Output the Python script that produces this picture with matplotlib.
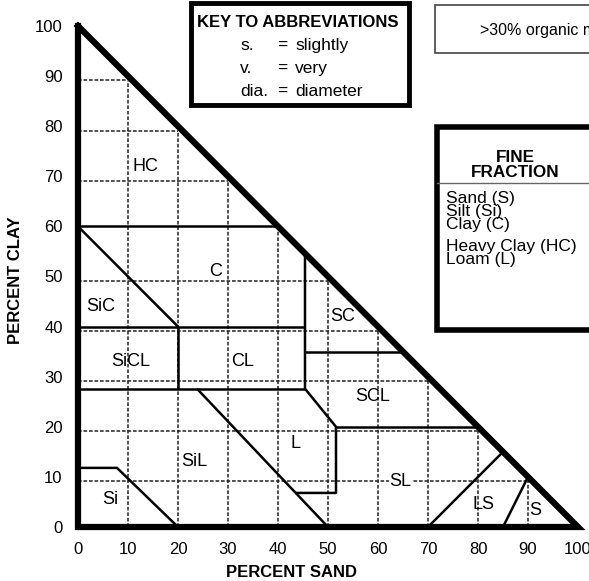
import matplotlib
matplotlib.use('Agg')
import matplotlib.pyplot as plt
from matplotlib.patches import Rectangle
from matplotlib.lines import Line2D

plt.rcParams['font.family'] = ['Liberation Sans', 'DejaVu Sans']

W, H = 589, 581

# texture triangle data (percent sand, percent clay)
ticks = [0, 10, 20, 30, 40, 50, 60, 70, 80, 90, 100]
grid_sand = [10, 20, 30, 40, 50, 60, 70, 80, 90]
grid_clay = [9.1, 19.1, 29.2, 39.1, 49.1, 69.0, 79.0, 89.2]

outline = [(0, 100), (0, 0), (100, 0), (0, 100)]

boundaries = [
    [(0, 60), (40, 60)],
    [(0, 60), (20, 40)],
    [(0, 40), (45.4, 40)],
    [(20, 40), (20, 27.6)],
    [(0, 27.6), (45.4, 27.6)],
    [(45.4, 54.6), (45.4, 27.6), (51.6, 20), (51.6, 6.8), (43.6, 6.8)],
    [(45.4, 35), (65, 35)],
    [(51.6, 20), (80, 20)],
    [(23.8, 27.6), (50, 0)],
    [(0, 11.8), (7.8, 11.8), (20, 0)],
    [(70, 0), (85, 15)],
    [(85, 0), (90, 10)],
]

classes = ['HC', 'C', 'SiC', 'SiCL', 'CL', 'SC', 'SCL', 'L', 'SiL', 'Si', 'SL', 'LS', 'S']
class_sand = [13.5, 27.5, 4.5, 10.5, 33, 53, 59, 43.5, 23.2, 6.5, 64.5, 81, 91.5]
class_clay = [72, 51, 44, 33, 33, 42, 26, 16.6, 13, 5.4, 9.1, 4.4, 3.2]

abbrevs = ['s.', 'v.', 'dia.']
meanings = ['slightly', 'very', 'diameter']
fine_main = ['Sand (S)', 'Silt (Si)', 'Clay (C)']
fine_extra = ['Heavy Clay (HC)', 'Loam (L)']


def fx(x):
    return x / W


def fy(y):
    return 1 - y / H


fig = plt.figure(figsize=(W / 100, H / 100), dpi=100)
ax = fig.add_axes([fx(78), fy(527), 500 / W, 501 / H])
ax.set_xlim(0, 100)
ax.set_ylim(0, 100)
for s in ax.spines.values():
    s.set_visible(False)

# dashed grid, stepped up to the diagonal
dash = (0, (2.4, 1.2))
for s in grid_sand:
    ax.plot([s, s], [0, 100 - s - 0.9], color='#222222', lw=1.1, ls=dash, zorder=1)
for c in grid_clay:
    ax.plot([0, 100 - round(c + 0.9)], [c, c], color='#222222', lw=1.1, ls=dash, zorder=1)

for b in boundaries:
    xs = [p[0] for p in b]
    ys = [p[1] for p in b]
    ax.plot(xs, ys, color='black', lw=1.8, zorder=2, solid_capstyle='butt')

ax.plot([p[0] for p in outline], [p[1] for p in outline], color='black', lw=4.5,
        zorder=3, clip_on=False, solid_joinstyle='miter')

for name, s, c in zip(classes, class_sand, class_clay):
    t = ax.text(s, c, name, fontsize=13, ha='center', va='center', zorder=4)
    if name == 'SL':
        t.set_bbox(dict(facecolor='white', edgecolor='none', pad=0.5))

ax.set_xticks(ticks)
ax.set_yticks(ticks)
ax.tick_params(length=0, labelsize=12)
ax.tick_params(axis='x', pad=11)
ax.tick_params(axis='y', pad=11)

ax.set_xlabel('PERCENT SAND', fontsize=12, fontweight='bold')
ax.set_ylabel('PERCENT CLAY', fontsize=12, fontweight='bold')
ax.xaxis.set_label_coords((292 - 78) / 500, (527 - 565) / 501)
ax.yaxis.set_label_coords((23 - 78) / 500, (527 - 280) / 501)

# key to abbreviations box
fig.add_artist(Rectangle((fx(191), fy(105)), 218 / W, 102 / H, transform=fig.transFigure,
                         facecolor='white', edgecolor='black', lw=3.5, zorder=5))
fig.text(fx(298), fy(27), 'KEY TO ABBREVIATIONS', fontsize=12, fontweight='bold',
         ha='center', va='baseline', zorder=6)
for i, (a, m) in enumerate(zip(abbrevs, meanings)):
    y = 50 + i * 23
    fig.text(fx(240), fy(y), a, fontsize=12.5, ha='left', va='baseline', zorder=6)
    fig.text(fx(277), fy(y), '=', fontsize=12.5, ha='left', va='baseline', zorder=6)
    fig.text(fx(295), fy(y), m, fontsize=12.5, ha='left', va='baseline', zorder=6)

# organic matter box (runs off the page)
fig.add_artist(Rectangle((fx(435), fy(53)), 200 / W, 48 / H, transform=fig.transFigure,
                         facecolor='white', edgecolor='#444444', lw=1.2, zorder=5))
fig.text(fx(480), fy(30), '>30% organic matter', fontsize=11.5, ha='left', va='center',
         zorder=6)

# fine fraction box
fig.add_artist(Rectangle((fx(437), fy(330)), 200 / W, 203 / H, transform=fig.transFigure,
                         facecolor='white', edgecolor='black', lw=4, zorder=5))
fig.add_artist(Line2D([fx(437), fx(589)], [fy(183), fy(183)], transform=fig.transFigure,
                      color='#666666', lw=1, zorder=6))
fig.text(fx(515), fy(165), 'FINE\nFRACTION', fontsize=12.3, fontweight='bold', ha='center',
         va='center', linespacing=0.95, zorder=6)
fig.text(fx(446), fy(191), '\n'.join(fine_main), fontsize=12.5, ha='left', va='top',
         linespacing=0.84, zorder=6)
fig.text(fx(446), fy(239), '\n'.join(fine_extra), fontsize=12.5, ha='left', va='top',
         linespacing=0.84, zorder=6)

fig.savefig('out.png', dpi=100)
